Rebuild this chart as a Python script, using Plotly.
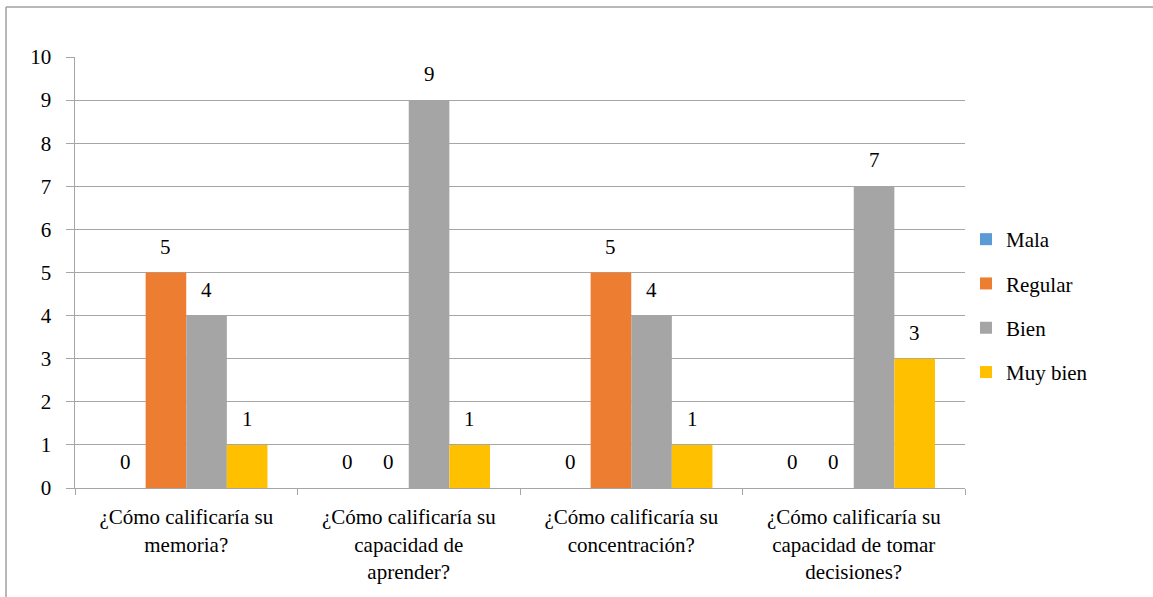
import plotly.graph_objects as go

categories = [
    "¿Cómo calificaría su<br>memoria?",
    "¿Cómo calificaría su<br>capacidad de<br>aprender?",
    "¿Cómo calificaría su<br>concentración?",
    "¿Cómo calificaría su<br>capacidad de tomar<br>decisiones?",
]
mala = [0, 0, 0, 0]
regular = [5, 0, 5, 0]
bien = [4, 9, 4, 7]
muy_bien = [1, 1, 1, 3]

series = [
    ("Mala", mala, "#5B9BD5"),
    ("Regular", regular, "#ED7D31"),
    ("Bien", bien, "#A5A5A5"),
    ("Muy bien", muy_bien, "#FFC000"),
]

FONT = "Liberation Serif"
W, H = 1153, 597
L, R, T, B = 75, 188, 57, 109
pw, ph = W - L - R, H - T - B
BARGAP = 0.27

fig = go.Figure()
for name, vals, color in series:
    fig.add_trace(go.Bar(name=name, x=categories, y=vals, legendgroup=name,
                         marker_color=color))

# value labels above each bar
slot_px = pw / len(categories)
bar_px = slot_px * (1 - BARGAP) / len(series)
for i, (name, vals, color) in enumerate(series):
    shift = (i - (len(series) - 1) / 2) * bar_px
    for cat, v in zip(categories, vals):
        fig.add_annotation(x=cat, y=v, text=str(v), showarrow=False,
                           xshift=shift, yanchor="bottom", yshift=12,
                           font=dict(family=FONT, size=21, color="black"))

# outer chart frame (top and left edges)
px2x = lambda p: (p - L) / pw
px2y = lambda p: (H - B - p) / ph
frame = dict(type="line", xref="paper", yref="paper",
             line=dict(color="#a0a0a0", width=1.5))
fig.add_shape(**frame, x0=px2x(6), x1=px2x(1160), y0=px2y(7), y1=px2y(7))
fig.add_shape(**frame, x0=px2x(6), x1=px2x(6), y0=px2y(7), y1=px2y(610))

fig.update_layout(
    template="none",
    width=W, height=H,
    margin=dict(l=L, r=R, t=T, b=B),
    font=dict(family=FONT, size=21, color="black"),
    barmode="group", bargap=BARGAP, bargroupgap=0,
    legend=dict(x=px2x(966), y=px2y(306), xanchor="left", yanchor="middle",
                tracegroupgap=14, font=dict(family=FONT, size=21, color="black")),
)
fig.update_xaxes(showline=True, linecolor="#a6a6a6", ticks="outside", ticklen=6,
                 tickcolor="#a6a6a6", tickson="boundaries", showgrid=False,
                 ticklabelstandoff=10,
                 tickfont=dict(family=FONT, size=21, color="black"))
fig.update_yaxes(range=[0, 10], dtick=1, showline=True, linecolor="#a6a6a6",
                 ticks="outside", ticklen=8, tickcolor="#a6a6a6",
                 ticksuffix="  ", gridcolor="#a6a6a6", zeroline=False,
                 tickfont=dict(family=FONT, size=21, color="black"))

fig.write_html("out.html")
